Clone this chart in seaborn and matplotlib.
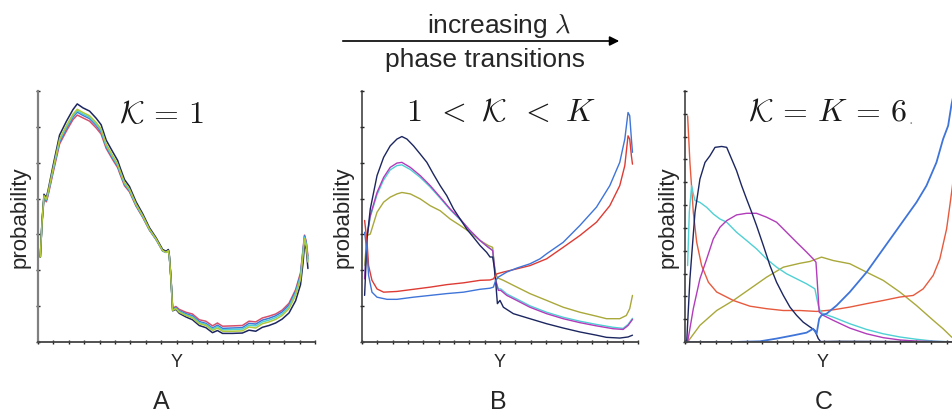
import matplotlib
matplotlib.use("Agg")
import matplotlib.pyplot as plt
import seaborn as sns

sns.set_style("white")
plt.rcParams["font.family"] = ["Liberation Sans", "DejaVu Sans"]
plt.rcParams["mathtext.fontset"] = "cm"

# ---------------- Panel A data (K = 1) ----------------
A_x = [0.15, 0.26, 0.39, 0.54, 0.65, 0.97, 1.40, 1.84, 2.27, 2.55, 2.92, 3.35, 3.78, 4.10,
       4.43, 4.86, 5.18, 5.33, 5.62, 5.94, 6.37, 6.80, 7.24, 7.67, 8.10, 8.32, 8.47, 8.53,
       8.64, 8.75, 8.96, 9.18, 9.61, 10.04, 10.48, 10.91, 11.34, 11.66, 11.99, 12.63, 13.28,
       13.71, 14.15, 14.58, 15.01, 15.44, 15.87, 16.31, 16.74, 17.06, 17.22, 17.32, 17.43, 17.54]
A_navy = [2.37, 3.36, 4.12, 4.03, 4.22, 4.90, 5.77, 6.15, 6.48, 6.64, 6.53, 6.44, 6.24, 6.06,
          5.63, 5.30, 5.06, 4.87, 4.53, 4.34, 3.91, 3.58, 3.19, 2.91, 2.58, 2.53, 2.58, 2.43,
          1.77, 0.87, 0.91, 0.80, 0.70, 0.62, 0.46, 0.40, 0.26, 0.32, 0.24, 0.24, 0.25,
          0.33, 0.30, 0.41, 0.46, 0.53, 0.64, 0.81, 1.15, 1.60, 2.20, 2.70, 2.60, 2.05]
A_lime = [2.37, 3.34, 4.08, 3.99, 4.17, 4.82, 5.66, 6.03, 6.35, 6.49, 6.40, 6.31, 6.12, 5.94,
          5.52, 5.19, 4.96, 4.78, 4.45, 4.27, 3.85, 3.53, 3.15, 2.88, 2.55, 2.50, 2.55, 2.41,
          1.76, 0.88, 0.93, 0.83, 0.74, 0.67, 0.51, 0.46, 0.32, 0.39, 0.30, 0.30, 0.31,
          0.42, 0.39, 0.51, 0.56, 0.63, 0.74, 0.93, 1.30, 1.76, 2.41, 2.88, 2.69, 2.23]
A_cyan = [2.37, 3.33, 4.06, 3.97, 4.15, 4.79, 5.62, 5.99, 6.31, 6.45, 6.36, 6.27, 6.08, 5.90,
          5.48, 5.15, 4.93, 4.75, 4.42, 4.24, 3.83, 3.51, 3.14, 2.87, 2.55, 2.50, 2.55, 2.41,
          1.77, 0.89, 0.94, 0.85, 0.76, 0.70, 0.54, 0.49, 0.36, 0.43, 0.34, 0.35, 0.36,
          0.47, 0.45, 0.56, 0.61, 0.68, 0.79, 0.98, 1.36, 1.82, 2.47, 2.92, 2.72, 2.28]
A_blue = [2.37, 3.32, 4.04, 3.95, 4.12, 4.76, 5.58, 5.95, 6.27, 6.41, 6.32, 6.23, 6.04, 5.86,
          5.45, 5.12, 4.90, 4.72, 4.40, 4.22, 3.81, 3.50, 3.13, 2.86, 2.54, 2.50, 2.55, 2.41,
          1.78, 0.91, 0.96, 0.87, 0.79, 0.73, 0.57, 0.52, 0.39, 0.47, 0.38, 0.39, 0.40,
          0.52, 0.50, 0.61, 0.66, 0.73, 0.84, 1.03, 1.41, 1.88, 2.53, 2.96, 2.76, 2.32]
A_pink = [2.37, 3.30, 4.00, 3.91, 4.08, 4.70, 5.52, 5.88, 6.20, 6.33, 6.25, 6.16, 5.97, 5.80,
          5.40, 5.08, 4.86, 4.68, 4.36, 4.19, 3.79, 3.48, 3.12, 2.86, 2.54, 2.50, 2.56, 2.42,
          1.80, 0.94, 0.99, 0.91, 0.83, 0.78, 0.62, 0.58, 0.45, 0.53, 0.44, 0.45, 0.46,
          0.58, 0.56, 0.67, 0.72, 0.78, 0.89, 1.08, 1.46, 1.93, 2.58, 2.98, 2.80, 2.40]

# ---------------- Panel B data (1 < K < K) ----------------
B_navy_x = [0.17, 0.33, 0.54, 0.98, 1.41, 1.84, 2.28, 2.60, 2.93, 3.36, 3.80, 4.23, 4.66, 5.10,
            5.53, 5.97, 6.40, 6.83, 7.27, 7.70, 8.13, 8.35, 8.52, 8.61, 8.72, 8.83, 9.00, 9.22,
            9.87, 10.95, 12.04, 13.12, 14.21, 15.29, 15.94, 16.81, 17.35, 17.64]
B_navy_y = [1.30, 2.88, 3.71, 4.64, 5.15, 5.47, 5.66, 5.73, 5.66, 5.47, 5.24, 5.01, 4.68, 4.36,
            4.08, 3.71, 3.43, 3.15, 2.92, 2.69, 2.50, 2.37, 2.37, 2.13, 1.67, 1.07, 1.16, 0.97,
            0.79, 0.65, 0.51, 0.39, 0.28, 0.19, 0.13, 0.11, 0.14, 0.19]
B_mag_x = [0.17, 0.33, 0.54, 0.98, 1.41, 1.84, 2.28, 2.60, 3.15, 3.80, 4.45, 5.10, 5.75, 6.40,
           7.05, 7.70, 8.24, 8.52, 8.63, 8.74, 8.89, 9.05, 9.44, 10.09, 10.95, 12.04, 13.12,
           14.21, 15.29, 16.38, 17.03, 17.35, 17.64]
B_mag_y = [1.76, 2.97, 3.53, 4.17, 4.59, 4.87, 4.99, 5.01, 4.87, 4.64, 4.36, 4.04, 3.71, 3.43,
           3.11, 2.83, 2.64, 2.55, 2.13, 1.67, 1.44, 1.44, 1.30, 1.16, 0.97, 0.79, 0.65,
           0.54, 0.45, 0.37, 0.35, 0.46, 0.63]
B_cyan_y = [1.80, 2.95, 3.49, 4.11, 4.52, 4.80, 4.92, 4.94, 4.81, 4.59, 4.32, 4.01, 3.69, 3.41,
            3.10, 2.83, 2.64, 2.56, 2.15, 1.70, 1.48, 1.48, 1.34, 1.20, 1.01, 0.83, 0.69,
            0.58, 0.49, 0.41, 0.38, 0.49, 0.66]
B_olive_x = [0.17, 0.33, 0.54, 0.98, 1.41, 1.84, 2.28, 2.60, 3.15, 3.80, 4.45, 5.10, 5.75, 6.40,
             7.05, 7.70, 8.24, 8.52, 8.63, 8.74, 8.89, 9.22, 9.87, 10.95, 12.04, 13.12, 14.21,
             15.29, 15.94, 16.81, 17.24, 17.46, 17.64]
B_olive_y = [2.13, 2.97, 3.01, 3.62, 3.90, 4.04, 4.13, 4.17, 4.13, 3.99, 3.80, 3.66, 3.43, 3.25,
             3.06, 2.83, 2.69, 2.64, 2.13, 1.86, 1.78, 1.72, 1.58, 1.35, 1.16, 0.97, 0.83,
             0.72, 0.65, 0.65, 0.74, 0.93, 1.30]
B_red_x = [0.17, 0.33, 0.43, 0.65, 0.98, 1.41, 2.28, 3.36, 4.45, 5.53, 6.62, 7.70, 8.35, 8.57,
           8.79, 9.22, 10.09, 10.95, 12.04, 13.12, 14.21, 15.29, 16.16, 16.81, 17.14, 17.35,
           17.46, 17.57, 17.64]
B_red_y = [3.39, 2.78, 2.13, 1.72, 1.48, 1.39, 1.41, 1.47, 1.53, 1.60, 1.65, 1.72, 1.73, 1.76,
           1.90, 1.95, 2.04, 2.13, 2.32, 2.64, 2.97, 3.34, 3.80, 4.36, 4.92, 5.75, 5.66, 5.19, 4.96]
B_blue_x = [0.17, 0.33, 0.43, 0.65, 0.98, 1.63, 2.28, 3.36, 4.45, 5.53, 6.62, 7.70, 8.35, 8.57,
            8.72, 8.89, 9.44, 10.09, 10.95, 11.61, 12.04, 13.12, 14.21, 15.29, 16.16, 16.81,
            17.14, 17.35, 17.46, 17.57, 17.64]
B_blue_y = [3.06, 2.50, 1.86, 1.39, 1.25, 1.19, 1.19, 1.25, 1.30, 1.35, 1.39, 1.47, 1.50, 1.53,
            1.72, 1.81, 1.95, 2.06, 2.18, 2.32, 2.46, 2.78, 3.25, 3.76, 4.36, 5.01, 5.66, 6.40,
            6.31, 5.66, 5.29]

# ---------------- Panel C data (K = K = 6) ----------------
C_red_x = [0.17, 0.32, 0.54, 0.76, 1.08, 1.52, 2.06, 3.14, 4.22, 5.30, 6.39, 7.47, 8.55, 9.63,
           10.71, 11.80, 12.88, 13.96, 14.83, 15.48, 16.13, 16.56, 17.00, 17.21, 17.38, 17.60]
C_red_y = [9.91, 7.87, 5.69, 4.37, 3.35, 2.62, 2.19, 1.82, 1.57, 1.46, 1.38, 1.38, 1.34, 1.41,
           1.53, 1.68, 1.82, 1.97, 2.04, 2.33, 2.92, 3.64, 4.96, 5.98, 6.85, 8.20]
C_navy_x = [0.11, 0.32, 0.65, 0.97, 1.30, 1.62, 1.95, 2.38, 2.71, 3.03, 3.35, 3.68, 4.00, 4.33,
            4.65, 5.09, 5.52, 5.95, 6.39, 6.82, 7.25, 7.68, 8.12, 8.44, 8.66, 8.81, 10.00,
            14.00, 17.60]
C_navy_y = [0.00, 2.77, 5.69, 7.14, 7.87, 8.16, 8.53, 8.57, 8.53, 8.02, 7.51, 6.85, 6.27, 5.69,
            5.10, 4.23, 3.35, 2.62, 2.04, 1.53, 1.17, 0.87, 0.66, 0.51, 0.15, 0.02, 0.03,
            0.02, 0.01]
C_cyan_x = [0.17, 0.28, 0.43, 0.54, 0.65, 0.97, 1.41, 1.84, 2.27, 2.71, 3.35, 4.00, 4.65, 5.30,
            5.95, 6.60, 7.25, 7.90, 8.44, 8.66, 8.81, 8.98, 9.63, 10.71, 11.80, 12.88, 13.96,
            15.04, 16.13, 17.21, 17.60]
C_cyan_y = [3.35, 5.69, 6.85, 6.49, 6.20, 6.12, 5.90, 5.61, 5.39, 5.25, 4.81, 4.45, 4.08, 3.64,
            3.28, 2.99, 2.77, 2.55, 2.33, 1.60, 1.31, 1.24, 1.09, 0.80, 0.55, 0.36, 0.22,
            0.12, 0.04, 0.01, 0.01]
C_mag_x = [0.17, 0.54, 0.97, 1.41, 1.84, 2.27, 2.71, 3.35, 4.00, 4.65, 5.30, 5.95, 6.60, 7.25,
           7.90, 8.33, 8.51, 8.61, 8.72, 8.98, 9.63, 10.71, 11.80, 12.88, 13.96, 15.04, 17.21,
           17.60]
C_mag_y = [0.00, 1.46, 2.77, 3.64, 4.52, 5.03, 5.32, 5.57, 5.64, 5.64, 5.47, 5.25, 4.81, 4.37,
           3.94, 3.64, 3.50, 2.48, 1.31, 1.17, 0.95, 0.61, 0.36, 0.19, 0.09, 0.04, 0.01, 0.01]
C_olive_x = [0.17, 0.97, 2.06, 3.14, 4.22, 5.30, 6.39, 7.47, 8.12, 8.87, 9.63, 10.71, 11.80,
             12.88, 13.96, 15.04, 16.13, 16.77, 17.32, 17.60]
C_olive_y = [0.00, 0.73, 1.38, 1.82, 2.33, 2.84, 3.28, 3.45, 3.53, 3.72, 3.57, 3.43, 3.06,
             2.70, 2.19, 1.60, 0.95, 0.58, 0.22, 0.10]
C_blue_x = [0.11, 3.14, 4.87, 5.95, 7.03, 7.90, 8.33, 8.55, 8.72, 8.87, 9.20, 9.85, 10.71, 11.80,
            12.88, 13.96, 15.04, 15.69, 16.34, 16.77, 17.10, 17.32, 17.60]
C_blue_y = [0.00, 0.00, 0.03, 0.15, 0.29, 0.41, 0.58, 0.36, 1.02, 1.17, 1.24, 1.60, 2.19, 3.06,
            4.08, 5.10, 6.12, 6.85, 7.87, 8.89, 9.48, 10.42, 11.30]

titles = [r"$\mathcal{K}\,=\,1$", r"$1\ \,<\ \mathcal{K}\ \,<\ K$", r"$\mathcal{K}\,=\,K\,=\,6$"]
panel_letters = ["A", "B", "C"]

NAVY = "#1c2660"
LIME = "#b0c83a"
CYAN = "#4fd0d4"
BLUE = "#3f74d8"
PINK = "#d5506c"
MAG = "#b23cba"
OLIVE = "#a9a83a"
RED = "#dd3b34"
RED_C = "#e65a3e"

W, H = 952, 414
fig = plt.figure(figsize=(W / 100, H / 100), dpi=100)


def px_axes(x0, x1, y0, y1):
    return fig.add_axes([x0 / W, 1 - y1 / H, (x1 - x0) / W, (y1 - y0) / H])


axA = px_axes(38, 315, 92, 343)
axB = px_axes(362, 638, 92, 343)
axC = px_axes(685, 962, 92, 343)


def line(ax, x, y, c, lw=1.0):
    sns.lineplot(x=x, y=y, ax=ax, color=c, lw=lw, sort=False, estimator=None)


for c, y in [(PINK, A_pink), (BLUE, A_blue), (CYAN, A_cyan), (NAVY, A_navy), (LIME, A_lime)]:
    line(axA, A_x, y, c, lw=1.1)

line(axB, B_olive_x, B_olive_y, OLIVE)
line(axB, B_mag_x, B_cyan_y, CYAN)
line(axB, B_mag_x, B_mag_y, MAG)
line(axB, B_navy_x, B_navy_y, NAVY)
line(axB, B_red_x, B_red_y, RED)
line(axB, B_blue_x, B_blue_y, BLUE)

line(axC, C_olive_x, C_olive_y, OLIVE)
line(axC, C_red_x, C_red_y, RED_C)
line(axC, C_cyan_x, C_cyan_y, CYAN)
line(axC, C_mag_x, C_mag_y, MAG)
line(axC, C_navy_x, C_navy_y, NAVY)
line(axC, C_blue_x, C_blue_y, BLUE, lw=1.3)

for ax, ytop in [(axA, 7), (axB, 7), (axC, 11)]:
    ax.set_xlim(0, 18)
    ax.set_ylim(0, ytop)
    ax.set_xticks(range(0, 19))
    ax.set_yticks(range(0, ytop + 1))
    ax.set_xticklabels([])
    ax.set_yticklabels([])
    ax.set_xlabel("")
    ax.set_ylabel("")
    ax.patch.set_alpha(0)
    for s in ["top", "right"]:
        ax.spines[s].set_visible(False)
    ax.spines["left"].set_color("#333333")
    ax.spines["bottom"].set_color("#444444")
    ax.spines["left"].set_linewidth(1.1)
    ax.spines["bottom"].set_linewidth(1.3)
    ax.tick_params(axis="both", direction="inout", length=3.5, width=1.0,
                   color="#222222", left=True, bottom=True)
axA.spines["left"].set_color("#808080")
axA.spines["left"].set_linewidth(1.6)

# panel titles
title_pos = [(162, 115), (501, 113), (827, 113)]
for (tx, ty), t in zip(title_pos, titles):
    fig.text(tx / W, 1 - ty / H, t, ha="center", va="center", fontsize=23, color="#1a1a1a")
fig.text(909 / W, 1 - 120 / H, ".", ha="left", va="center", fontsize=12, color="#999999")

# axis labels
for xc in [20, 343, 668]:
    fig.text(xc / W, 1 - 217 / H, "probability", rotation=90, ha="center", va="center",
             fontsize=16)
for xc in [176.5, 500, 823]:
    fig.text(xc / W, 1 - 363 / H, "Y", ha="center", va="center", fontsize=13)
for xc, lt in zip([161, 498, 824], panel_letters):
    fig.text(xc / W, 1 - 402 / H, lt, ha="center", va="center", fontsize=18)

# arrow with annotation
fig.text(499 / W, 1 - 26 / H, r"increasing $\lambda$", ha="center", va="center", fontsize=19)
fig.text(485 / W, 1 - 60 / H, "phase transitions", ha="center", va="center", fontsize=19)
fig.patches.append(matplotlib.patches.FancyArrowPatch(
    (340 / W, 1 - 42 / H), (622 / W, 1 - 42 / H), transform=fig.transFigure,
    arrowstyle="-|>", mutation_scale=14, lw=1.2, color="black"))

fig.savefig("out.png", dpi=100)
